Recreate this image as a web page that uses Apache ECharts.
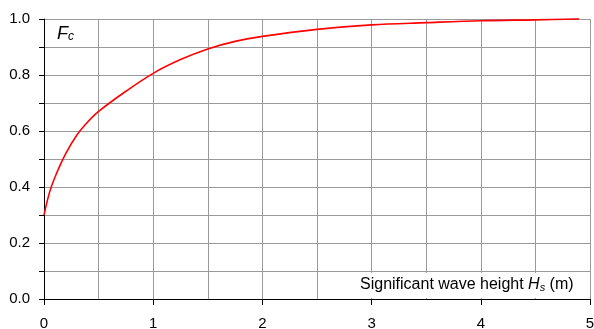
<!DOCTYPE html>
<html>
<head>
<meta charset="utf-8">
<script src="https://cdn.jsdelivr.net/npm/echarts@6/dist/echarts.min.js"></script>
<style>
  html, body { margin: 0; padding: 0; background: #fff; }
  #chart { width: 594px; height: 329px; }
</style>
</head>
<body>
<div id="chart"></div>
<script>
// Significant wave height Hs (m)
const waveHeight = [0, 0.05, 0.1, 0.2, 0.3, 0.4, 0.5, 0.75, 1.0, 1.25, 1.5, 1.75, 2.0, 2.5, 3.0, 3.5, 4.0, 4.5, 4.9];
// Correction factor Fc
const factorFc = [0.30, 0.38, 0.435, 0.52, 0.585, 0.632, 0.67, 0.742, 0.806, 0.855, 0.893, 0.92, 0.938, 0.963, 0.979, 0.987, 0.994, 0.997, 1.0];
// Axis tick labels
const xTickLabels = ['0', '1', '2', '3', '4', '5'];
const yTickLabels = ['0.0', '0.2', '0.4', '0.6', '0.8', '1.0'];

const FONT = '"Liberation Sans", Arial, sans-serif';
const GRID_COLOR = '#9a9a9a';

const chart = echarts.init(document.getElementById('chart'), null, { renderer: 'canvas' });

chart.setOption({
  animation: false,
  backgroundColor: '#fff',
  grid: { left: 44, right: 4, top: 19, bottom: 30, containLabel: false, outerBoundsMode: 'none' },
  xAxis: {
    type: 'value',
    min: 0,
    max: 5,
    interval: 1,
    axisLine: { show: true, onZero: false, lineStyle: { color: '#000', width: 1 } },
    axisTick: { show: true, inside: false, length: 6, lineStyle: { color: '#000' } },
    axisLabel: {
      margin: 17,
      color: '#000',
      fontSize: 15,
      fontFamily: FONT,
      showMaxLabel: true,
      formatter: v => {
        const s = String(Math.round(v));
        return xTickLabels.includes(s) ? s : '';
      }
    },
    splitLine: { show: true, lineStyle: { color: GRID_COLOR, width: 1 } },
    minorTick: { show: false, splitNumber: 2 },
    minorSplitLine: { show: true, lineStyle: { color: GRID_COLOR, width: 1 } }
  },
  yAxis: {
    type: 'value',
    min: 0,
    max: 1,
    interval: 0.1,
    axisLine: { show: true, onZero: false, lineStyle: { color: '#000', width: 1 } },
    axisTick: { show: true, inside: false, length: 5, lineStyle: { color: '#000' } },
    axisLabel: {
      margin: 14,
      color: '#000',
      fontSize: 15,
      fontFamily: FONT,
      formatter: v => {
        const s = v.toFixed(1);
        return yTickLabels.includes(s) ? s : '';
      }
    },
    splitLine: { show: true, lineStyle: { color: GRID_COLOR, width: 1 } }
  },
  series: [{
    type: 'line',
    data: waveHeight.map((h, i) => [h, factorFc[i]]),
    smooth: 0.35,
    symbol: 'none',
    clip: false,
    lineStyle: { color: '#ff0000', width: 1.6 },
    z: 5
  }],
  graphic: [
    {
      type: 'rect',
      left: 342,
      top: 273,
      shape: { width: 247, height: 25 },
      style: { fill: '#fff' },
      z: 10
    },
    {
      type: 'text',
      left: 360,
      top: 277,
      z: 11,
      style: {
        text: '{n|Significant wave height }{i|H}{s|s}{n| (m)}',
        rich: {
          n: { fontSize: 16, fontFamily: FONT, fill: '#000', verticalAlign: 'bottom', lineHeight: 18 },
          i: { fontSize: 16, fontFamily: FONT, fontStyle: 'italic', fill: '#000', verticalAlign: 'bottom', lineHeight: 18 },
          s: { fontSize: 11, fontFamily: FONT, fontStyle: 'italic', fill: '#000', verticalAlign: 'bottom', lineHeight: 15 }
        }
      }
    },
    {
      type: 'text',
      left: 57,
      top: 25,
      z: 11,
      style: {
        text: '{f|F}{c|c}',
        rich: {
          f: { fontSize: 18, fontFamily: FONT, fontStyle: 'italic', fill: '#000', verticalAlign: 'bottom', lineHeight: 19 },
          c: { fontSize: 12, fontFamily: FONT, fontStyle: 'italic', fill: '#000', verticalAlign: 'bottom', lineHeight: 15 }
        }
      }
    }
  ]
});
</script>
</body>
</html>
